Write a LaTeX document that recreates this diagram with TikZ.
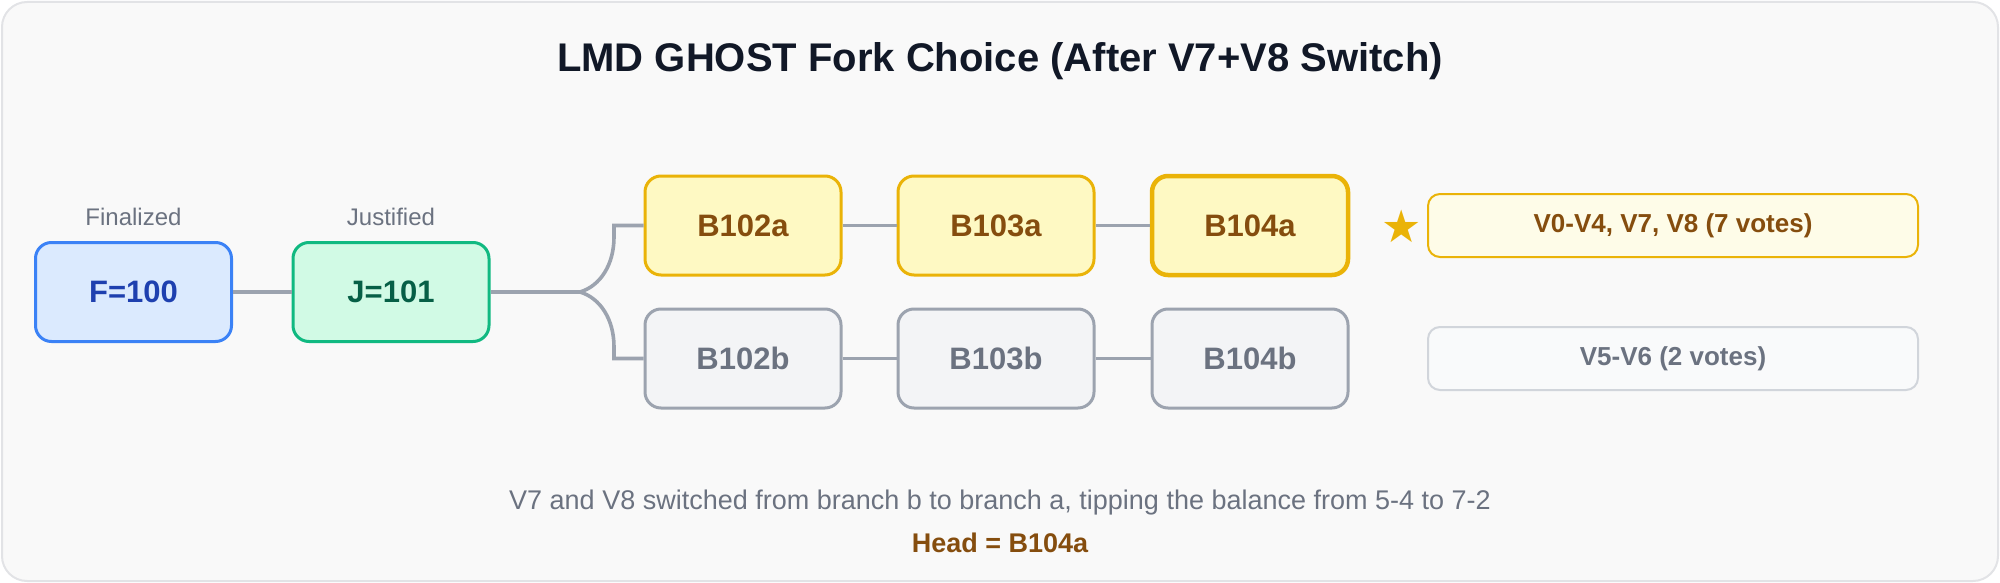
\documentclass[tikz,border=0pt]{standalone}
\usepackage{fontspec}
\setmainfont{Liberation Sans}
\newfontfamily\symfont{DejaVu Sans}
\definecolor{bgfill}{HTML}{F9F9F9}
\definecolor{bgborder}{HTML}{E2E3E6}
\definecolor{titlec}{HTML}{111827}
\definecolor{grayt}{HTML}{6B7280}
\definecolor{linec}{HTML}{9CA3AF}
\definecolor{bluefill}{HTML}{DBEAFE}
\definecolor{blueborder}{HTML}{3B82F6}
\definecolor{bluetext}{HTML}{1E40AF}
\definecolor{greenfill}{HTML}{D1FAE5}
\definecolor{greenborder}{HTML}{10B981}
\definecolor{greentext}{HTML}{065F46}
\definecolor{yelfill}{HTML}{FEF9C3}
\definecolor{yelborder}{HTML}{EAB308}
\definecolor{yeltext}{HTML}{854D0E}
\definecolor{yelpale}{HTML}{FEFCE8}
\definecolor{grayfill}{HTML}{F3F4F6}
\definecolor{grayborder}{HTML}{9CA3AF}
\definecolor{votegrayfill}{HTML}{F9FAFB}
\definecolor{votegrayborder}{HTML}{D1D5DB}
\tikzset{
  blk/.style={rectangle, rounded corners=16pt, minimum width=196pt, minimum height=99pt,
    inner sep=0pt, line width=3pt, font=\fontsize{31}{36}\selectfont\bfseries},
  ablk/.style={blk, fill=yelfill, draw=yelborder, text=yeltext},
  bblk/.style={blk, fill=grayfill, draw=grayborder, text=grayt},
  vote/.style={rectangle, rounded corners=12pt, minimum width=490pt, minimum height=63pt,
    inner sep=0pt, line width=2pt, font=\fontsize{26}{32}\selectfont\bfseries},
  lbl/.style={font=\fontsize{24}{28}\selectfont, text=grayt, inner sep=0pt},
  conn/.style={draw=linec, line width=3.6pt},
}
\begin{document}
\begin{tikzpicture}[x=1pt,y=-1pt]
\useasboundingbox (0,0) rectangle (2000,583);
\draw[fill=bgfill, draw=bgborder, line width=2pt, rounded corners=25pt] (2,2) rectangle (1998,581);

\node[font=\fontsize{40}{48}\selectfont\bfseries, text=titlec] (title) at (1000,61) {LMD GHOST Fork Choice (After V7+V8 Switch)};

\node[blk, fill=bluefill, draw=blueborder, text=bluetext] (F) at (133.5,292) {F=100};
\node[blk, fill=greenfill, draw=greenborder, text=greentext] (J) at (391,292) {J=101};
\node[lbl] (fl) at (133.5,217) {Finalized};
\node[lbl] (jl) at (391,217) {Justified};

\node[ablk] (A2) at (743,225.5) {B102a};
\node[ablk] (A3) at (996,225.5) {B103a};
\node[ablk, line width=4.5pt] (A4) at (1250,225.5) {B104a};
\node[bblk] (B2) at (743,358.5) {B102b};
\node[bblk] (B3) at (996,358.5) {B103b};
\node[bblk] (B4) at (1250,358.5) {B104b};

\node[text=yelborder, font=\symfont\fontsize{45}{50}\selectfont, inner sep=0pt] (star) at (1402,226) {★};
\node[vote, fill=yelpale, draw=yelborder, text=yeltext] (VA) at (1673,225.5) {V0-V4, V7, V8 (7 votes)};
\node[vote, fill=votegrayfill, draw=votegrayborder, text=grayt] (VB) at (1673,358.5) {V5-V6 (2 votes)};

\coordinate (split) at (580,292);
\draw[conn] (F.east) -- (J.west);
\draw[conn] (J.east) -- (split);
\draw[conn] (split) .. controls (600,286) and (614,265) .. (614,237) |- (A2.west);
\draw[conn] (split) .. controls (600,298) and (614,319) .. (614,347) |- (B2.west);
\draw[conn] (A2.east) -- (A3.west);
\draw[conn] (A3.east) -- (A4.west);
\draw[conn] (B2.east) -- (B3.west);
\draw[conn] (B3.east) -- (B4.west);

\node[font=\fontsize{27}{32}\selectfont, text=grayt] (cap) at (1000,503) {V7 and V8 switched from branch b to branch a, tipping the balance from 5-4 to 7-2};
\node[font=\fontsize{27}{32}\selectfont\bfseries, text=yeltext] (head) at (1000,543) {Head = B104a};
\end{tikzpicture}
\end{document}
